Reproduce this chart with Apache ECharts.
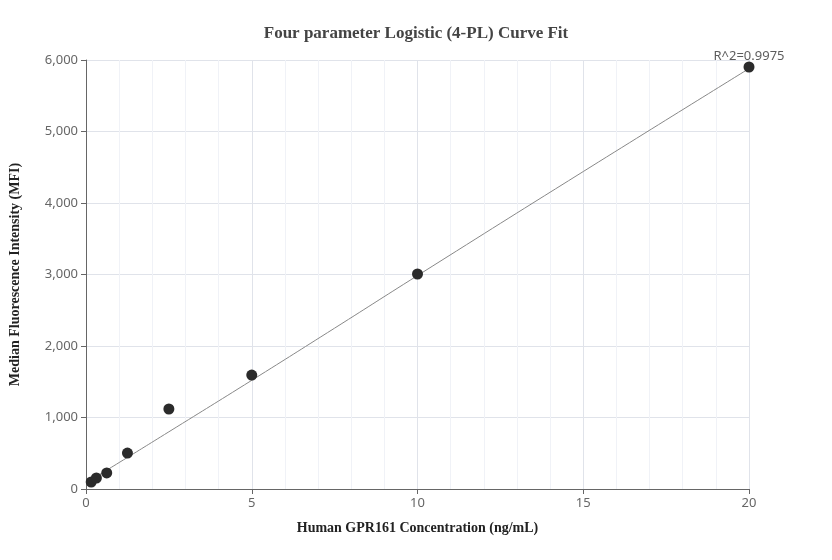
<!DOCTYPE html>
<html>
<head>
<meta charset="utf-8">
<script src="https://cdn.jsdelivr.net/npm/echarts@6/dist/echarts.min.js"></script>
<style>html,body{margin:0;padding:0;background:#fff}#chart{width:832px;height:560px}</style>
</head>
<body>
<div id="chart"></div>
<script>
// measured standards
var conc = [0.156, 0.3125, 0.625, 1.25, 2.5, 5, 10, 20];
var mfi = [98, 154, 224, 503, 1119, 1594, 3007, 5902];
// fitted curve
var fitX = [0.156, 1, 2.5, 5, 7.5, 10, 15, 20];
var fitY = [130, 370, 800, 1520, 2250, 2985, 4440, 5880];
var r2Label = 'R^2=0.9975';

var chart = echarts.init(document.getElementById('chart'));
var serif = 'Liberation Serif, Times New Roman, serif';

chart.setOption({
    animation: false,
    title: {
        text: 'Four parameter Logistic (4-PL) Curve Fit',
        left: 'center',
        top: 20,
        textStyle: {fontFamily: serif, fontSize: 17, fontWeight: 'bold', color: '#444'}
    },
    grid: {left: 83, right: 83, top: 60, bottom: 71},
    xAxis: {
        type: 'value',
        min: 0, max: 20, interval: 5,
        name: 'Human GPR161 Concentration (ng/mL)',
        nameLocation: 'middle',
        nameGap: 32,
        nameTextStyle: {fontFamily: serif, fontSize: 14, fontWeight: 'bold', color: '#222'},
        axisLine: {lineStyle: {color: '#666'}},
        axisTick: {show: true, lineStyle: {color: '#666'}},
        axisLabel: {color: '#666', fontSize: 13, fontFamily: 'Noto Sans, sans-serif'},
        splitLine: {lineStyle: {color: '#e0e3ea'}},
        minorTick: {show: false, splitNumber: 5},
        minorSplitLine: {show: true, lineStyle: {color: '#f0f2f7'}}
    },
    yAxis: {
        type: 'value',
        min: 0, max: 6000, interval: 1000,
        name: 'Median Fluorescence Intensity (MFI)',
        nameLocation: 'middle',
        nameGap: 64,
        nameTextStyle: {fontFamily: serif, fontSize: 14, fontWeight: 'bold', color: '#222'},
        axisLine: {show: true, lineStyle: {color: '#666'}},
        axisTick: {show: true, lineStyle: {color: '#666'}},
        axisLabel: {color: '#666', fontSize: 13, fontFamily: 'Noto Sans, sans-serif'},
        splitLine: {lineStyle: {color: '#e0e3ea'}}
    },
    series: [
        {
            type: 'line',
            data: fitX.map(function(x, i){ return [x, fitY[i]]; }),
            smooth: true,
            symbol: 'none',
            lineStyle: {color: '#888', width: 1},
            z: 2
        },
        {
            type: 'scatter',
            data: conc.map(function(x, i){ return [x, mfi[i]]; }),
            symbolSize: 11,
            itemStyle: {color: '#2b2b2b', opacity: 1},
            z: 3
        },
        {
            type: 'scatter',
            data: [[20, 5902]],
            symbolSize: 0,
            label: {show: true, position: 'top', distance: 4, formatter: r2Label, color: '#333', fontSize: 13, fontFamily: 'Noto Sans, sans-serif'},
            z: 4
        }
    ]
});
</script>
</body>
</html>
